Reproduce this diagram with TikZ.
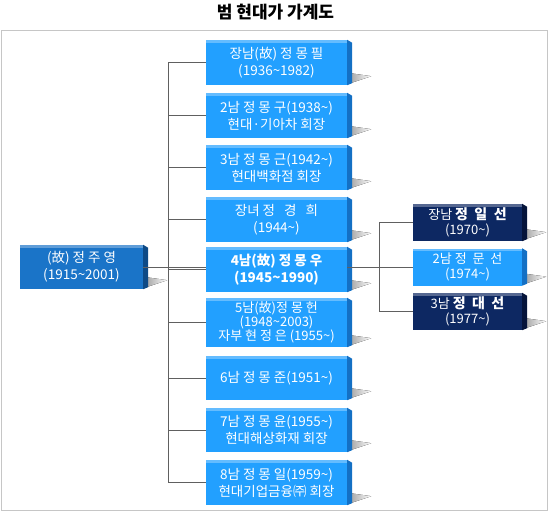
\documentclass[tikz,border=0pt]{standalone}
\usepackage{fontspec}
\setmainfont{Noto Sans CJK KR}
\usetikzlibrary{calc}
\definecolor{skyface}{HTML}{22A0FF}
\definecolor{skyside}{HTML}{1470C4}
\definecolor{rootface}{HTML}{1A74C8}
\definecolor{rootside}{HTML}{0E4A86}
\definecolor{navyface}{HTML}{0D2862}
\definecolor{navyside}{HTML}{05143A}
\newcommand\wave{\textasciitilde}
\tikzset{
  kid/.style={rectangle, fill=skyface, text=white, inner sep=0pt, align=center,
    minimum width=141pt, minimum height=45pt, font=\fontsize{13.5}{17}\selectfont},
  grandkid/.style={kid, minimum width=109pt, minimum height=37pt, font=\fontsize{13}{15}\selectfont},
  wire/.style={draw=gray!75!black, line width=0.8pt}
}
\begin{document}
\begin{tikzpicture}[x=1pt,y=-1pt]
\useasboundingbox (0,0) rectangle (550,514);
\draw[gray!45] (1.5,30.5) rectangle (547.5,510.5);
\node[font=\fontsize{17}{17}\selectfont\bfseries] (title) at (275.5,12) {범 현대가 가계도};

\node[kid, fill=rootface, minimum width=123pt, minimum height=44pt] (root) at (81.5,267)
  {(故)\ 정\ 주\ 영\\(1915\wave2001)};

\node[kid] (b1) at (276.5,62.5) {장남(故)\ 정\ 몽\ 필\\(1936\wave1982)};
\node[kid] (b2) at (276.5,115.5) {2남\ 정\ 몽\ 구(1938\wave)\\현대·기아차 회장};
\node[kid] (b3) at (276.5,167.5) {3남\ 정\ 몽\ 근(1942\wave)\\현대백화점 회장};
\node[kid] (b4) at (276.5,219.5) {장녀 정\ \ \ 경\ \ \ 희\\(1944\wave)};
\node[kid, font=\fontsize{13.5}{17}\selectfont\bfseries] (b5) at (276.5,269.5) {4남(故)\ 정\ 몽\ 우\\(1945\wave1990)};
\node[kid, minimum height=49pt, font=\fontsize{13}{14}\selectfont] (b6) at (276.5,322.5)
  {5남(故)정\ 몽\ 헌\\(1948\wave2003)\\자부\ 현\ 정\ 은\ (1955\wave)};
\node[kid, minimum height=44pt] (b7) at (276.5,378) {6남\ 정\ 몽\ 준(1951\wave)};
\node[kid, minimum height=44pt] (b8) at (276.5,430) {7남\ 정\ 몽\ 윤(1955\wave)\\현대해상화재 회장};
\node[kid] (b9) at (276.5,482.5) {8남\ 정\ 몽\ 일(1959\wave)\\현대기업금융㈜ 회장};

\node[grandkid, fill=navyface] (r1) at (467.5,222.5) {장남 {\fontsize{14}{15}\selectfont\bfseries 정\ \ 일\ \ 선}\\(1970\wave)};
\node[grandkid] (r2) at (467.5,267) {2남 정\ \ 문\ \ 선\\(1974\wave)};
\node[grandkid, fill=navyface] (r3) at (467.5,311.5) {3남 {\fontsize{14}{15}\selectfont\bfseries 정\ \ 대\ \ 선}\\(1977\wave)};

\foreach \n/\side in {root/rootside,b1/skyside,b2/skyside,b3/skyside,b4/skyside,b5/skyside,
  b6/skyside,b7/skyside,b8/skyside,b9/skyside,r1/navyside,r2/skyside,r3/navyside}
{
  \fill[left color=gray!70, right color=white] ($(\n.south east)+(3,-12)$) -- ($(\n.south east)+(24,-9)$)
    -- ($(\n.south east)+(3,-2)$) -- cycle;
  \fill[\side] (\n.north east) -- ++(5,3) -- ($(\n.south east)+(5,-2)$) -- (\n.south east) -- cycle;
  \fill[white, opacity=0.3] (\n.north west) rectangle ($(\n.north east)+(0,3)$);
}

\coordinate (trunk) at (168,0);
\coordinate (fork) at (379,0);
\draw[wire] (b1.west -| trunk) -- (b9.west -| trunk);
\foreach \n in {b1,b2,b3,b4,b5,b6,b7,b8,b9}
{
  \draw[wire] (\n.west -| trunk) -- (\n.west);
}
\draw[wire] (root.east) -- (root.east -| b5.west);
\draw[wire] (b5.east |- r2.west) -- (r2.west);
\draw[wire] (r1.west -| fork) -- (r3.west -| fork);
\draw[wire] (r1.west -| fork) -- (r1.west);
\draw[wire] (r3.west -| fork) -- (r3.west);
\end{tikzpicture}
\end{document}
